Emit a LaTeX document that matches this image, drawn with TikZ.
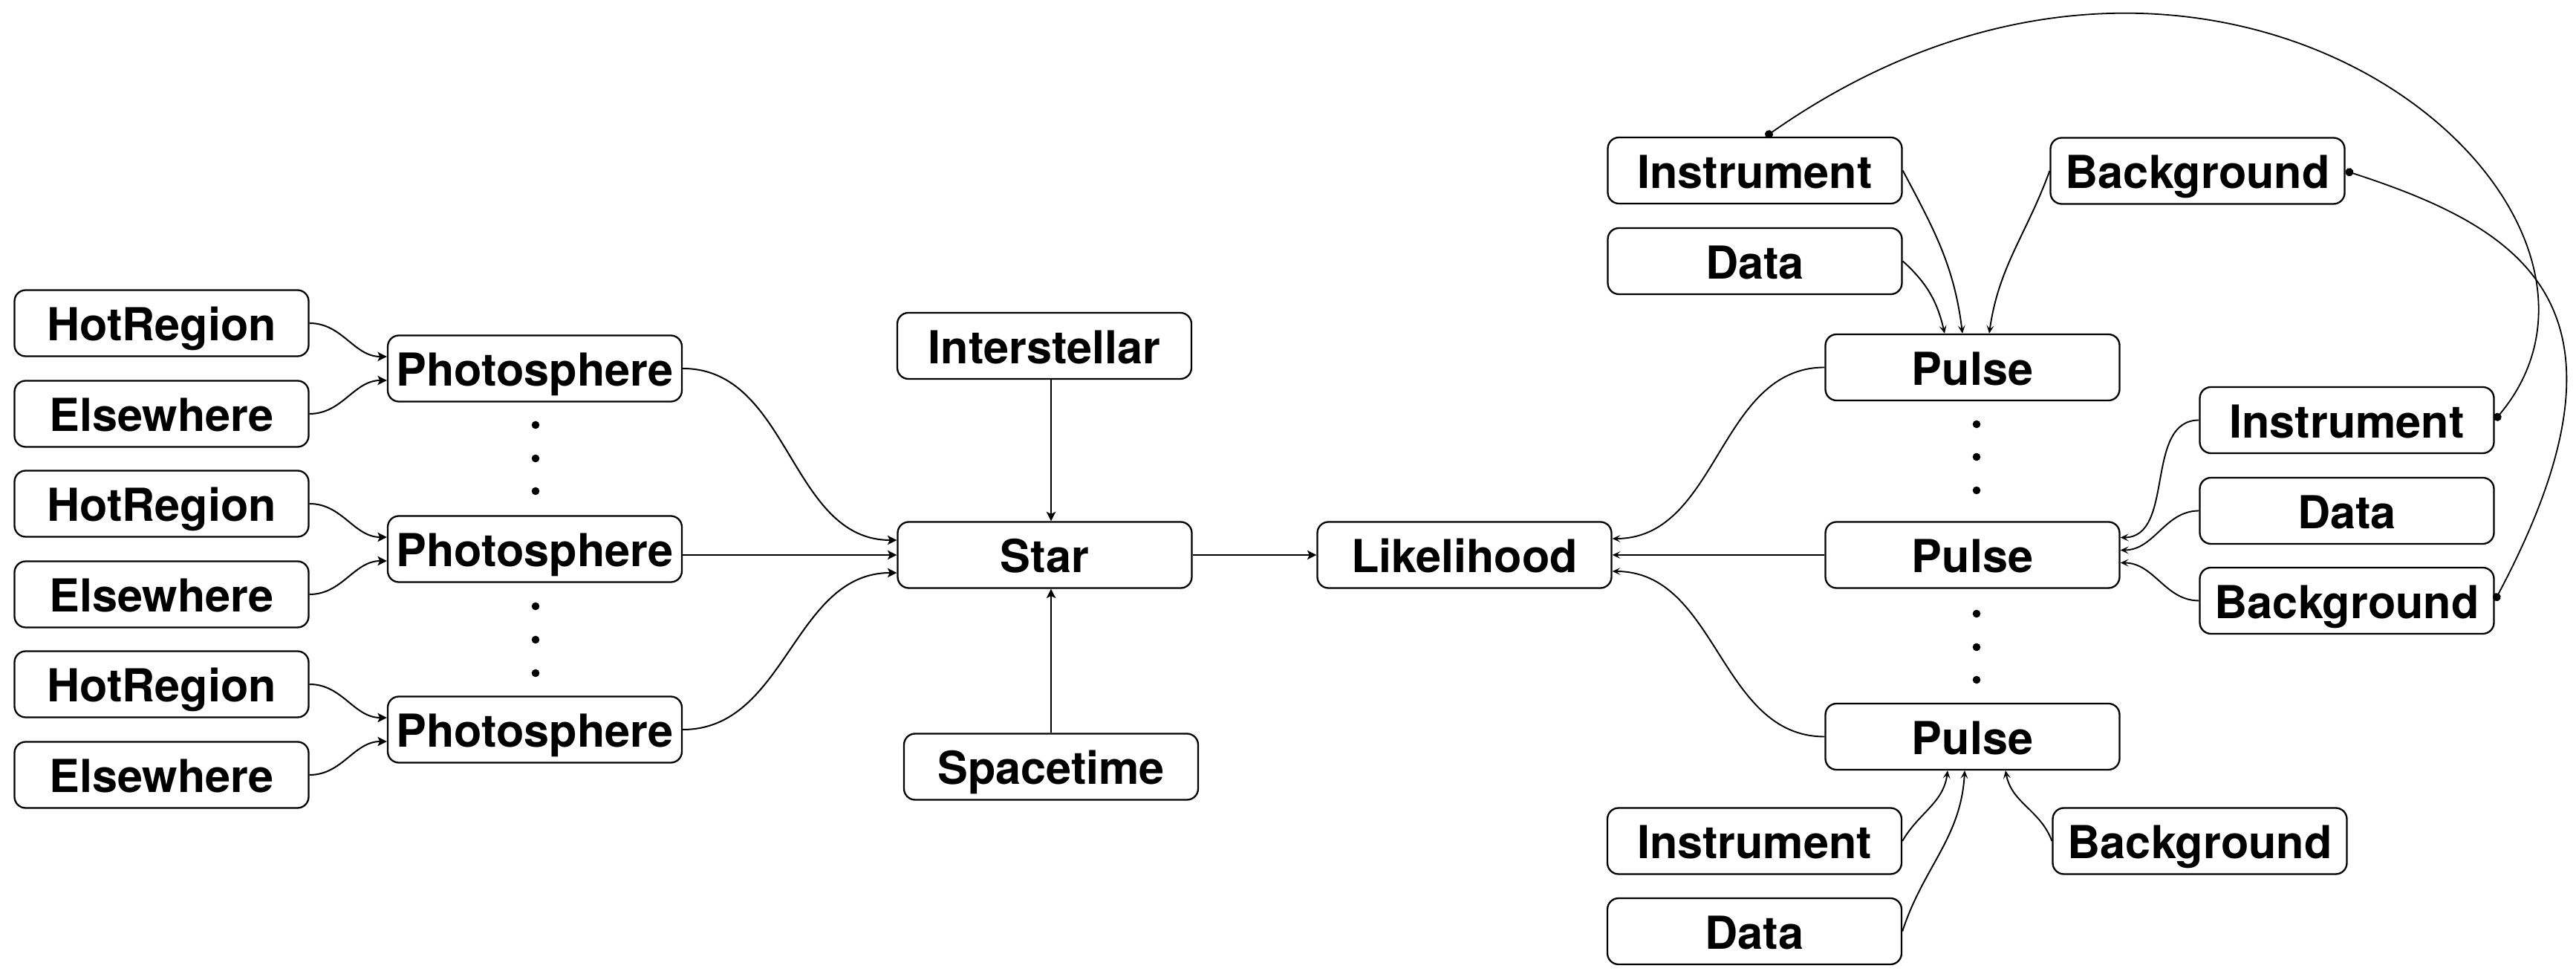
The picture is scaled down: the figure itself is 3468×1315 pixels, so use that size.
\documentclass[tikz,border=0pt]{standalone}
\usepackage{fontspec}
\setmainfont{TeX Gyre Heros}
\usetikzlibrary{arrows.meta}
\begin{document}
\begin{tikzpicture}[x=0.1mm,y=0.1mm,
  box/.style={draw,line width=0.23mm,rounded corners=1.5mm,minimum width=39.6mm,minimum height=8.9mm,inner sep=0pt,text height=13.6pt,text depth=0pt,font=\fontsize{17.4}{20}\selectfont\bfseries},
  conn/.style={line width=0.2mm,-{Stealth[length=1.25mm,width=1.25mm,inset=0.3mm]}},
  thinarrow/.style={line width=0.19mm,-{Stealth[length=1.1mm,width=1.0mm,inset=0.5mm]}},
  arcline/.style={line width=0.18mm,{Circle[length=1.1mm]}-{Circle[length=1.1mm]}},
  dotnode/.style={circle,fill,inner sep=0pt,minimum size=1.06mm}
]
\useasboundingbox (0,0) rectangle (3468,1315);

% left column
\node[box] (hr1) at (217.5,880) {HotRegion};
\node[box] (el1) at (217.5,758) {Elsewhere};
\node[box] (hr2) at (217.5,637) {HotRegion};
\node[box] (el2) at (217.5,515) {Elsewhere};
\node[box] (hr3) at (217.5,394) {HotRegion};
\node[box] (el3) at (217.5,272) {Elsewhere};

% photospheres
\node[box] (ph1) at (720,819) {Photosphere};
\node[box] (ph2) at (720,576) {Photosphere};
\node[box] (ph3) at (720,333) {Photosphere};

\node[dotnode] (pd1) at (721,743) {};
\node[dotnode] (pd2) at (721,698) {};
\node[dotnode] (pd3) at (721,654) {};
\node[dotnode] (pd4) at (721,499) {};
\node[dotnode] (pd5) at (721,454) {};
\node[dotnode] (pd6) at (721,409) {};

% centre
\node[box] (star) at (1406.5,568) {Star};
\node[box] (inter) at (1406,849.5) {Interstellar};
\node[box] (space) at (1415,283) {Spacetime};
\node[box] (like) at (1971.5,568) {Likelihood};

% pulses
\node[box] (pu1) at (2655.5,820.5) {Pulse};
\node[box] (pu2) at (2655.5,568) {Pulse};
\node[box] (pu3) at (2655.5,323.5) {Pulse};

\node[dotnode] (qd1) at (2661,744) {};
\node[dotnode] (qd2) at (2661,700) {};
\node[dotnode] (qd3) at (2661,655) {};
\node[dotnode] (qd4) at (2661,489) {};
\node[dotnode] (qd5) at (2661,444) {};
\node[dotnode] (qd6) at (2661,400) {};

% pulse inputs
\node[box] (ti) at (2362.5,1085.5) {Instrument};
\node[box] (td) at (2362.5,963.5) {Data};
\node[box] (tb) at (2958.5,1085) {Background};
\node[box] (ri) at (3159.5,749.5) {Instrument};
\node[box] (rd) at (3159.5,627.5) {Data};
\node[box] (rb) at (3159.5,506.5) {Background};
\node[box] (bi) at (2362,183) {Instrument};
\node[box] (bd) at (2362,61.5) {Data};
\node[box] (bb) at (2961.5,183) {Background};

% left connectors
\draw[conn] (hr1.east) to[out=0,in=180] ([yshift=1.6mm]ph1.west);
\draw[conn] (el1.east) to[out=0,in=180] ([yshift=-1.6mm]ph1.west);
\draw[conn] (hr2.east) to[out=0,in=180] ([yshift=1.6mm]ph2.west);
\draw[conn] (el2.east) to[out=0,in=180] ([yshift=-1.6mm]ph2.west);
\draw[conn] (hr3.east) to[out=0,in=180] ([yshift=1.6mm]ph3.west);
\draw[conn] (el3.east) to[out=0,in=180] ([yshift=-1.6mm]ph3.west);

\draw[conn] (ph1.east) to[out=0,in=180] ([yshift=2.0mm]star.west);
\draw[conn] (ph2.east |- star.west) -- (star.west);
\draw[conn] (ph3.east) to[out=0,in=180] ([yshift=-2.4mm]star.west);

\draw[conn] (inter.south -| space.north) -- (star.north -| space.north);
\draw[conn] (space.north) -- (star.south -| space.north);
\draw[conn] (star.east) -- (star.east -| like.west);

% pulses to likelihood
\draw[thinarrow] (pu1.west) to[out=180,in=0] ([yshift=2.2mm]like.east);
\draw[thinarrow] (pu2.west) -- (pu2.west -| like.east);
\draw[thinarrow] (pu3.west) to[out=180,in=0] ([yshift=-2.2mm]like.east);

% inputs to pulse 1
\draw[thinarrow] (ti.east) to[out=-62,in=97] ([xshift=-1.35mm]pu1.north);
\draw[thinarrow] (td.east) to[out=-42,in=103] ([xshift=-3.75mm]pu1.north);
\draw[thinarrow] (tb.west) to[out=250,in=82] ([xshift=2.25mm]pu1.north);

% inputs to pulse 2
\draw[thinarrow] (ri.west) to[out=180,in=0] ([yshift=2.35mm]pu2.east);
\draw[thinarrow] (rd.west) to[out=180,in=0] ([yshift=0.65mm]pu2.east);
\draw[thinarrow] (rb.west) to[out=180,in=0] ([yshift=-1.05mm]pu2.east);

% inputs to pulse 3
\draw[thinarrow] (bi.east) to[out=60,in=-97] ([xshift=-3.35mm]pu3.south);
\draw[thinarrow] (bd.east) to[out=72,in=-93] ([xshift=-1.05mm]pu3.south);
\draw[thinarrow] (bb.west) to[out=110,in=-80] ([xshift=4.45mm]pu3.south);

% shared links
\draw[arcline] ([xshift=1.45mm]ti.north) .. controls +(35:750) and +(50:380) .. (ri.east);
\draw[arcline] (tb.east) .. controls +(-18:250) and +(62:450) .. (rb.east);
\end{tikzpicture}
\end{document}
